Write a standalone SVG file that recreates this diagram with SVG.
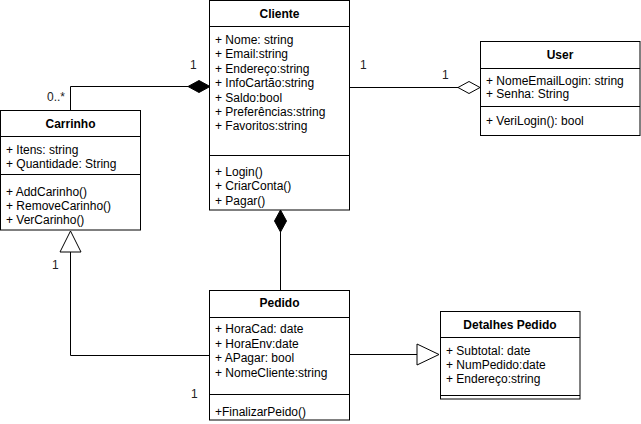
<svg xmlns="http://www.w3.org/2000/svg" width="641" height="424" viewBox="0 0 641 424">
<style>
.box{fill:#fff;stroke:#000;stroke-width:1}
.ln{fill:none;stroke:#000;stroke-width:1}
text{font-family:"Liberation Sans",Arial,sans-serif;font-size:12px;fill:#000}
.t{font-weight:bold;text-anchor:middle}
.m{fill:#222}
</style>
<rect width="641" height="424" fill="#fff"/>
<g id="connectors">
<path class="ln" d="M70.5,110 V86.5 H188"/>
<path d="M188,86.5 L199,80.5 L210,86.5 L199,92.5 Z" fill="#000" stroke="#000"/>
<path class="ln" d="M350,87.5 H458"/>
<path d="M458,87.5 L469,81.5 L480,87.5 L469,93.5 Z" fill="#fff" stroke="#000"/>
<path class="ln" d="M280.5,290 V232"/>
<path d="M280.5,210 L286.5,221 L280.5,232 L274.5,221 Z" fill="#000" stroke="#000"/>
<path class="ln" d="M210,355.5 H70.5 V252"/>
<path d="M70.5,231 L81,252 L60,252 Z" fill="#fff" stroke="#000"/>
<path class="ln" d="M350,354.5 H417"/>
<path d="M439,354.5 L417,344 L417,365 Z" fill="#fff" stroke="#000"/>
<text class="m" x="47" y="101">0..*</text>
<text class="m" x="190" y="69">1</text>
<text class="m" x="360" y="69">1</text>
<text class="m" x="442" y="79">1</text>
<text class="m" x="52" y="269">1</text>
<text class="m" x="191" y="398">1</text>
</g>
<g id="cliente">
<rect class="box" x="209.5" y="0.5" width="140" height="209.5"/>
<path class="ln" d="M209.5,26.5 H349.5 M209.5,155.5 H349.5"/>
<text class="t" x="279.5" y="18">Cliente</text>
<text x="215" y="44">+ Nome: string</text>
<text x="215" y="58">+ Email:string</text>
<text x="215" y="72.5">+ Endereço:string</text>
<text x="215" y="86.5">+ InfoCartão:string</text>
<text x="215" y="101.5">+ Saldo:bool</text>
<text x="215" y="115.5">+ Preferências:string</text>
<text x="215" y="130">+ Favoritos:string</text>
<text x="215" y="176">+ Login()</text>
<text x="215" y="190">+ CriarConta()</text>
<text x="215" y="204.5">+ Pagar()</text>
</g>
<g id="carrinho">
<rect class="box" x="0.5" y="110.5" width="140" height="119.5"/>
<path class="ln" d="M0.5,136.5 H140.5 M0.5,174.5 H140.5"/>
<text class="t" x="70.5" y="128">Carrinho</text>
<text x="6" y="154">+ Itens: string</text>
<text x="6" y="168">+ Quantidade: String</text>
<text x="6" y="196">+ AddCarinho()</text>
<text x="6" y="210">+ RemoveCarinho()</text>
<text x="6" y="224">+ VerCarinho()</text>
</g>
<g id="user">
<rect class="box" x="480.5" y="41.5" width="159.5" height="94"/>
<path class="ln" d="M480.5,68.5 H640 M480.5,106.5 H640"/>
<text class="t" x="560" y="59">User</text>
<text x="486" y="85">+ NomeEmailLogin: string</text>
<text x="486" y="98">+ Senha: String</text>
<text x="486" y="125">+ VeriLogin(): bool</text>
</g>
<g id="pedido">
<rect class="box" x="209.5" y="290.5" width="140" height="129.5"/>
<path class="ln" d="M209.5,317.5 H349.5 M209.5,394.5 H349.5"/>
<text class="t" x="279.5" y="307">Pedido</text>
<text x="215" y="333">+ HoraCad: date</text>
<text x="215" y="348">+ HoraEnv:date</text>
<text x="215" y="362">+ APagar: bool</text>
<text x="215" y="377">+ NomeCliente:string</text>
<text x="215" y="416">+FinalizarPeido()</text>
</g>
<g id="detalhes">
<rect class="box" x="440.5" y="311.5" width="139.5" height="87.5"/>
<path class="ln" d="M440.5,337.5 H580 M440.5,395.5 H580"/>
<text class="t" x="510" y="329">Detalhes Pedido</text>
<text x="446" y="355">+ Subtotal: date</text>
<text x="446" y="369">+ NumPedido:date</text>
<text x="446" y="383">+ Endereço:string</text>
</g>
</svg>
